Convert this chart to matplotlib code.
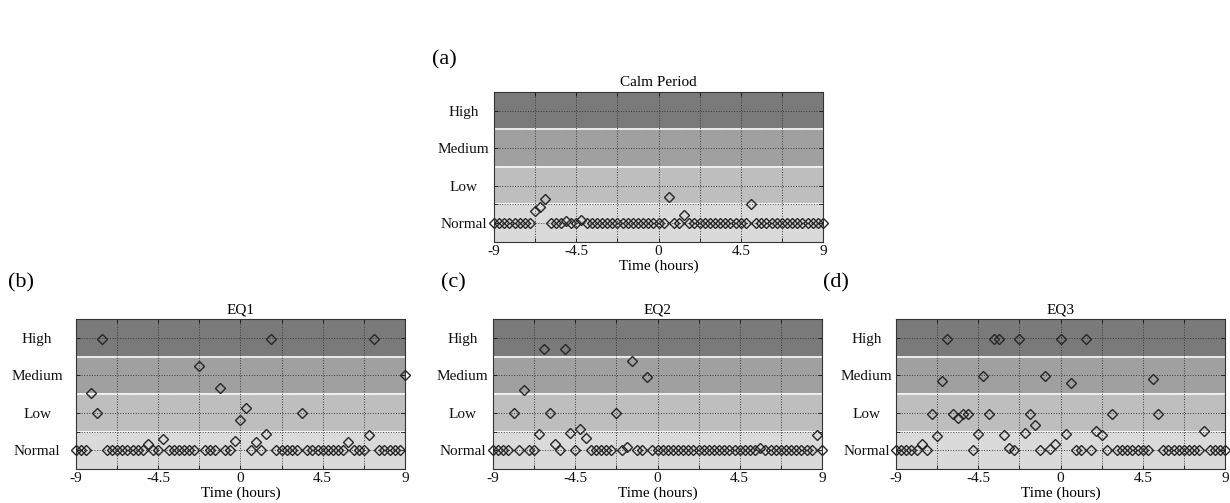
import numpy as np
import matplotlib
matplotlib.use('Agg')
import matplotlib.pyplot as plt

plt.rcParams['font.family'] = ['Liberation Serif', 'DejaVu Serif']

# sample times (hours around the event)
times = np.linspace(-9, 9, 65)

# alert level per sample: 0 = Normal, 1 = Low, 2 = Medium, 3 = High
calm = [0, 0, 0, 0, 0, 0, 0, 0, 0.32, 0.44,
        0.64, 0, 0, 0, 0.05, 0, 0, 0.08, 0, 0,
        0, 0, 0, 0, 0, 0, 0, 0, 0, 0,
        0, 0, 0, 0, 0.70, 0, 0, 0.23, 0, 0,
        0, 0, 0, 0, 0, 0, 0, 0, 0, 0,
        0.51, 0, 0, 0, 0, 0, 0, 0, 0, 0,
        0, 0, 0, 0, 0]

eq1 = [0, 0, 0, 1.54, 0.99, 2.97, 0, 0, 0, 0,
       0, 0, 0, 0, 0.18, 0, 0, 0.29, 0, 0,
       0, 0, 0, 0, 2.26, 0, 0, 0, 1.66, 0,
       0, 0.24, 0.81, 1.12, 0, 0.22, 0, 0.44, 2.98, 0,
       0, 0, 0, 0, 1.0, 0, 0, 0, 0, 0,
       0, 0, 0, 0.21, 0, 0, 0, 0.40, 2.98, 0,
       0, 0, 0, 0, 2.0]

eq2 = [0, 0, 0, 0, 1.0, 0, 1.62, 0, 0, 0.43,
       2.69, 1.0, 0.18, 0, 2.69, 0.45, 0, 0.57, 0.33, 0,
       0, 0, 0, 0, 1.0, 0, 0.09, 2.38, 0, 0,
       1.96, 0, 0, 0, 0, 0, 0, 0, 0, 0,
       0, 0, 0, 0, 0, 0, 0, 0, 0, 0,
       0, 0, 0.06, 0, 0, 0, 0, 0, 0, 0,
       0, 0, 0, 0.42, 0]

eq3 = [0, 0, 0, 0, 0, 0.16, 0, 0.98, 0.38, 1.86,
       2.98, 0.98, 0.85, 0.98, 0.98, 0, 0.44, 1.99, 0.98, 2.98,
       2.98, 0.41, 0.07, 0, 2.98, 0.46, 0.98, 0.68, 0, 1.99,
       0.04, 0.18, 2.98, 0.43, 1.79, 0, 0, 2.98, 0, 0.52,
       0.42, 0, 0.98, 0, 0, 0, 0, 0, 0, 0,
       1.91, 0.98, 0, 0, 0, 0, 0, 0, 0, 0,
       0.52, 0, 0, 0, 0]

level_ticks = [0, 0.5, 1, 2, 3]
level_names = ['Normal', '', 'Low', 'Medium', 'High']
x_ticks = [-9, -6.75, -4.5, -2.25, 0, 2.25, 4.5, 6.75, 9]
x_labels = ['-9', '', '-4.5', '', '0', '', '4.5', '', '9']

band_edges = [-0.5, 0.5, 1.5, 2.5, 3.5]
band_colors = ['#dadada', '#bebebe', '#a0a0a0', '#7a7a7a']


def draw_panel(ax, values, title, ypad):
    for i, c in enumerate(band_colors):
        ax.axhspan(band_edges[i], band_edges[i + 1], color=c, lw=0, zorder=0)
    for e in band_edges[1:-1]:
        ax.axhline(e, color='white', lw=1.2, zorder=1)
        ax.axhline(e, color='#d8d8d8', lw=0.6, ls=(0, (1, 2)), zorder=1.1)
    ax.set_xlim(-9, 9)
    ax.set_ylim(-0.5, 3.5)
    ax.set_xticks(x_ticks, x_labels)
    ax.set_yticks(level_ticks, level_names)
    ax.grid(True, color='#3a3a3a', ls=':', lw=0.7)
    ax.plot(times, values, ls='none', marker='D', ms=5.2, mfc='none',
            mec='#262626', mew=1.0, clip_on=False, zorder=3)
    ax.tick_params(direction='in', top=True, right=True, length=3, width=0.6,
                   labelsize=11, colors='#111111')
    ax.tick_params(axis='y', pad=ypad)
    ax.tick_params(axis='x', pad=2)
    for lbl in ax.get_yticklabels():
        lbl.set_ha('center')
    for s in ax.spines.values():
        s.set_color('#333333')
        s.set_linewidth(0.8)
    ax.set_title(title, fontsize=11, pad=4)
    ax.set_xlabel('Time (hours)', fontsize=11, labelpad=1)


fig = plt.figure(figsize=(12.3, 5.03), dpi=100)

w, h = 329 / 1230, 150 / 503
ax_a = fig.add_axes([494 / 1230, 1 - 242 / 503, w, h])
ax_b = fig.add_axes([76 / 1230, 1 - 469 / 503, w, h])
ax_c = fig.add_axes([493 / 1230, 1 - 469 / 503, w, h])
ax_d = fig.add_axes([896 / 1230, 1 - 469 / 503, w, h])

draw_panel(ax_a, calm, 'Calm Period', 22)
draw_panel(ax_b, eq1, 'EQ1', 28)
draw_panel(ax_c, eq2, 'EQ2', 22)
draw_panel(ax_d, eq3, 'EQ3', 21)

fig.text(432 / 1230, 1 - 60 / 503, '(a)', fontsize=16, va='center')
fig.text(8 / 1230, 1 - 283 / 503, '(b)', fontsize=16, va='center')
fig.text(441 / 1230, 1 - 283 / 503, '(c)', fontsize=16, va='center')
fig.text(823 / 1230, 1 - 283 / 503, '(d)', fontsize=16, va='center')

fig.savefig('out.png', dpi=100)
